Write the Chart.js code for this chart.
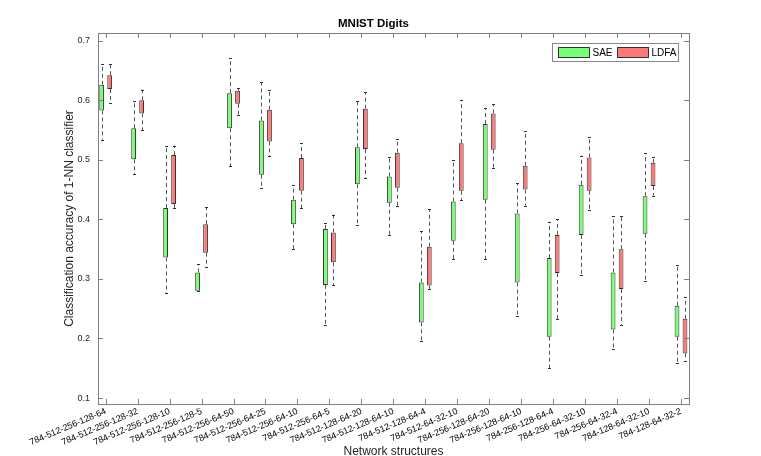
<!DOCTYPE html>
<html>
<head>
<meta charset="utf-8">
<script src="https://cdn.jsdelivr.net/npm/chart.js@4.4.1/dist/chart.umd.min.js"></script>
<style>
  body { margin: 0; background: #fff; }
</style>
</head>
<body>
<canvas id="myChart" width="761" height="456"></canvas>
<script>
// Datos
const categories = [
    '784-512-256-128-64', '784-512-256-128-32', '784-512-256-128-10', '784-512-256-128-5',
    '784-512-256-64-50', '784-512-256-64-25', '784-512-256-64-10', '784-512-256-64-5',
    '784-512-128-64-20', '784-512-128-64-10', '784-512-128-64-4', '784-512-64-32-10',
    '784-256-128-64-20', '784-256-128-64-10', '784-256-128-64-4', '784-256-64-32-10',
    '784-256-64-32-4', '784-128-64-32-10', '784-128-64-32-2'
];

const saeQ1  = [0.583, 0.501, 0.336, 0.280, 0.553, 0.475, 0.392, 0.290, 0.459, 0.428, 0.227, 0.364, 0.433, 0.294, 0.203, 0.374, 0.215, 0.376, 0.203];
const saeQ3  = [0.626, 0.553, 0.419, 0.311, 0.612, 0.566, 0.433, 0.384, 0.521, 0.472, 0.294, 0.430, 0.560, 0.410, 0.335, 0.458, 0.311, 0.439, 0.255];
const saeMin = [0.534, 0.476, 0.276, 0.280, 0.489, 0.452, 0.350, 0.223, 0.390, 0.374, 0.196, 0.333, 0.333, 0.237, 0.150, 0.307, 0.182, 0.297, 0.159];
const saeMax = [0.661, 0.598, 0.524, 0.325, 0.671, 0.631, 0.458, 0.394, 0.598, 0.505, 0.380, 0.500, 0.587, 0.461, 0.396, 0.507, 0.405, 0.511, 0.324];

const ldfaQ1  = [0.619, 0.578, 0.426, 0.344, 0.594, 0.531, 0.448, 0.328, 0.518, 0.453, 0.289, 0.448, 0.517, 0.450, 0.310, 0.448, 0.283, 0.456, 0.175];
const ldfaQ3  = [0.642, 0.600, 0.508, 0.392, 0.616, 0.584, 0.503, 0.378, 0.586, 0.512, 0.354, 0.528, 0.578, 0.490, 0.374, 0.504, 0.350, 0.495, 0.233];
const ldfaMin = [0.596, 0.550, 0.419, 0.320, 0.576, 0.506, 0.419, 0.290, 0.470, 0.423, 0.283, 0.433, 0.487, 0.423, 0.233, 0.416, 0.223, 0.440, 0.163];
const ldfaMax = [0.661, 0.618, 0.524, 0.420, 0.620, 0.618, 0.528, 0.408, 0.614, 0.535, 0.417, 0.601, 0.594, 0.548, 0.400, 0.538, 0.405, 0.505, 0.270];

const yTicks = [0.1, 0.2, 0.3, 0.4, 0.5, 0.6, 0.7];

const FONT = '"Liberation Sans", Arial, Helvetica, sans-serif';
const green = 'rgb(120,255,120)';
const red = 'rgb(255,120,120)';
const frameColor = '#808080';

// bigotes discontinuos + remates
const whiskers = {
    id: 'whiskers',
    afterDatasetsDraw(chart) {
        const ctx = chart.ctx;
        const y = chart.scales.y;
        const series = [[saeMin, saeMax, saeQ1, saeQ3], [ldfaMin, ldfaMax, ldfaQ1, ldfaQ3]];
        ctx.save();
        series.forEach((s, di) => {
            const meta = chart.getDatasetMeta(di);
            meta.data.forEach((bar, i) => {
                const x = Math.round(bar.x) + 0.5;
                const pMin = y.getPixelForValue(s[0][i]);
                const pMax = y.getPixelForValue(s[1][i]);
                const pQ1 = y.getPixelForValue(s[2][i]);
                const pQ3 = y.getPixelForValue(s[3][i]);
                ctx.strokeStyle = '#555';
                ctx.lineWidth = 1;
                ctx.setLineDash([4, 3]);
                ctx.beginPath();
                if (pMax < pQ3 - 0.5) { ctx.moveTo(x, pQ3); ctx.lineTo(x, pMax); }
                if (pMin > pQ1 + 0.5) { ctx.moveTo(x, pQ1); ctx.lineTo(x, pMin); }
                ctx.stroke();
                ctx.setLineDash([]);
                ctx.strokeStyle = '#333';
                ctx.beginPath();
                ctx.moveTo(x - 1.5, Math.round(pMax) + 0.5); ctx.lineTo(x + 1.5, Math.round(pMax) + 0.5);
                ctx.moveTo(x - 1.5, Math.round(pMin) + 0.5); ctx.lineTo(x + 1.5, Math.round(pMin) + 0.5);
                ctx.stroke();
            });
        });
        ctx.restore();
    }
};

// marco tipo MATLAB con marcas hacia dentro + leyenda
const frame = {
    id: 'frame',
    afterDraw(chart) {
        const ctx = chart.ctx;
        const a = chart.chartArea;
        const x = chart.scales.x, y = chart.scales.y;
        ctx.save();
        ctx.strokeStyle = frameColor;
        ctx.lineWidth = 1;
        ctx.strokeRect(Math.round(a.left) + 0.5, Math.round(a.top) + 0.5,
            Math.round(a.right - a.left), Math.round(a.bottom - a.top));
        ctx.beginPath();
        x.ticks.forEach(t => {
            const px = Math.round(x.getPixelForValue(t.value)) + 0.5;
            ctx.moveTo(px, a.bottom); ctx.lineTo(px, a.bottom - 5);
            ctx.moveTo(px, a.top); ctx.lineTo(px, a.top + 5);
        });
        y.ticks.forEach(t => {
            const py = Math.round(y.getPixelForValue(t.value)) + 0.5;
            ctx.moveTo(a.left, py); ctx.lineTo(a.left + 5, py);
            ctx.moveTo(a.right, py); ctx.lineTo(a.right - 5, py);
        });
        ctx.stroke();

        // leyenda
        const bx = Math.round(a.right - 137.5) + 0.5, by = Math.round(a.top + 10) + 0.5;
        ctx.fillStyle = '#fff';
        ctx.fillRect(bx, by, 126, 18);
        ctx.strokeStyle = '#888';
        ctx.strokeRect(bx, by, 126, 18);
        ctx.font = '10px ' + FONT;
        ctx.textBaseline = 'middle';
        let cx = bx + 6;
        chart.data.datasets.forEach(ds => {
            ctx.fillStyle = ds.backgroundColor;
            ctx.fillRect(cx, by + 4, 31, 10);
            ctx.strokeStyle = '#333';
            ctx.strokeRect(cx, by + 4, 31, 10);
            ctx.fillStyle = '#000';
            ctx.fillText(ds.label, cx + 34, by + 9.5);
            cx += 59;
        });
        ctx.restore();
    }
};

const ctx = document.getElementById('myChart');

new Chart(ctx, {
    type: 'bar',
    data: {
        datasets: [{
            label: 'SAE',
            data: saeQ1.map((q, i) => ({x: i, y: [q, saeQ3[i]]})),
            backgroundColor: green,
            borderColor: '#333',
            borderWidth: 1,
            borderSkipped: false
        }, {
            label: 'LDFA',
            data: ldfaQ1.map((q, i) => ({x: i, y: [q, ldfaQ3[i]]})),
            backgroundColor: red,
            borderColor: '#333',
            borderWidth: 1,
            borderSkipped: false
        }]
    },
    options: {
        responsive: false,
        animation: false,
        categoryPercentage: 0.5,
        barPercentage: 0.6,
        layout: { padding: { left: 58, right: 72, top: 0, bottom: 0 } },
        plugins: {
            legend: { display: false },
            tooltip: { enabled: false },
            title: {
                display: true,
                text: 'MNIST Digits',
                color: '#000',
                font: { family: FONT, size: 11.5, weight: 'bold' },
                padding: { top: 17, bottom: 2.2 }
            }
        },
        scales: {
            x: {
                type: 'linear',
                offset: false,
                min: -0.24,
                max: 18.25,
                grid: { display: false, drawTicks: false },
                border: { display: false },
                afterBuildTicks: s => { s.ticks = categories.map((c, i) => ({value: i})); },
                afterFit: s => { s.height = 52; },
                ticks: {
                    autoSkip: false,
                    minRotation: 23,
                    maxRotation: 23,
                    padding: 2,
                    color: '#000',
                    font: { family: FONT, size: 9 },
                    callback: v => categories[v]
                },
                title: {
                    display: true,
                    text: 'Network structures',
                    color: '#262626',
                    font: { family: FONT, size: 12, lineHeight: 1 },
                    padding: { top: 0, bottom: -2 }
                }
            },
            y: {
                min: 0.09,
                max: 0.713,
                grid: { display: false, drawTicks: false },
                border: { display: false },
                afterBuildTicks: s => { s.ticks = yTicks.map(v => ({value: v})); },
                afterFit: s => { s.width = 40; },
                ticks: {
                    padding: 8,
                    color: '#262626',
                    font: { family: FONT, size: 9 },
                    callback: v => v.toFixed(1)
                },
                title: {
                    display: true,
                    text: 'Classification accuracy of 1-NN classifier',
                    color: '#262626',
                    font: { family: FONT, size: 12 },
                    padding: { top: 4, bottom: 0 }
                }
            }
        }
    },
    plugins: [whiskers, frame]
});
</script>
</body>
</html>
